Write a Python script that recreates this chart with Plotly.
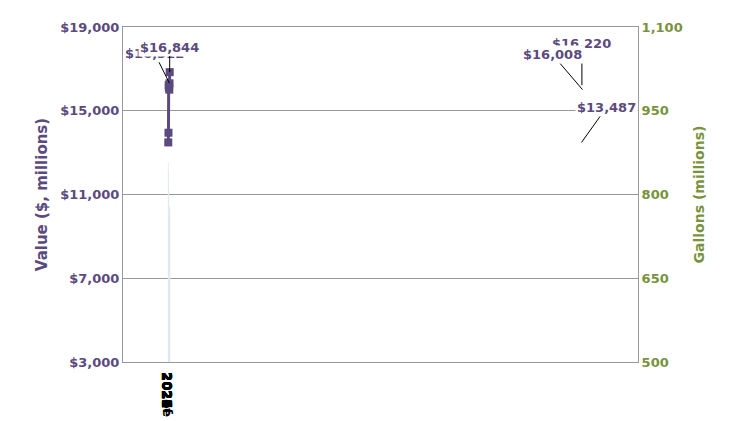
import plotly.graph_objects as go

years = ["2020", "2021", "2022", "2023", "2024", "2025", "2026e", "2027f"]
value = [13487, 13950, 16220, 16100, 16200, 16008, 16312, 16844]
gallons = [857, 839, 813, 776, 780, 761, 759, 776]
value_labels = {0: "$13,487", 2: "$16,220", 5: "$16,008", 6: "$16,312", 7: "$16,844"}
label_offsets = {0: (25, -35), 2: (0, -42), 5: (-30, -35), 6: (-15, -30), 7: (0, -25)}
left_ticks = [3000, 7000, 11000, 15000, 19000]
right_ticks = [500, 650, 800, 950, 1100]

purple = "#5B4A7E"
green = "#77933C"
font = "DejaVu Sans"

fig = go.Figure()
fig.add_trace(go.Bar(x=years, y=gallons, yaxis="y2", marker_color=green, width=0.42,
                     text=["<b>%d</b>" % g for g in gallons], textposition="inside", insidetextanchor="end",
                     textfont=dict(color="#8AAA3A", size=13, family=font), showlegend=False))
fig.add_trace(go.Scatter(x=years, y=value, mode="lines+markers", yaxis="y",
                         line=dict(color=purple, width=3), marker=dict(symbol="square", size=8, color=purple),
                         showlegend=False))
for i, t in value_labels.items():
    ax, ay = label_offsets[i]
    fig.add_annotation(x=years[i], y=value[i], xref="x", yref="y", text="<b>" + t + "</b>",
                       showarrow=True, arrowhead=0, arrowcolor="black", arrowwidth=1, ax=ax, ay=ay,
                       font=dict(color=purple, size=13, family=font), bgcolor="white")

fig.update_layout(
    width=740, height=421, margin=dict(l=115, r=110, t=17, b=41),
    plot_bgcolor="white", paper_bgcolor="white",
    font=dict(family=font),
    xaxis=dict(type="category", showline=True, linecolor="#999", mirror=True,
               tickfont=dict(size=13, color="black", family=font), ticks="",
               tickvals=years, ticktext=["<b>%s</b>" % y for y in years]),
    yaxis=dict(range=[3000, 19000], tickvals=left_ticks, ticktext=["<b>$%s</b>" % format(v, ",") for v in left_ticks],
               showgrid=True, gridcolor="#999", zeroline=False, showline=True, linecolor="#999",
               tickfont=dict(size=13, color=purple, family=font),
               title=dict(text="<b>Value ($, millions)</b>", font=dict(size=15, color=purple, family=font), standoff=8)),
    yaxis2=dict(range=[500, 1100], tickvals=right_ticks, ticktext=["<b>%s</b>" % format(v, ",") for v in right_ticks],
                overlaying="y", side="right", showgrid=False, zeroline=False, showline=True, linecolor="#999",
                tickfont=dict(size=13, color=green, family=font),
                title=dict(text="<b>Gallons (millions)</b>", font=dict(size=14, color=green, family=font), standoff=12)),
)
fig.write_html("out.html")
